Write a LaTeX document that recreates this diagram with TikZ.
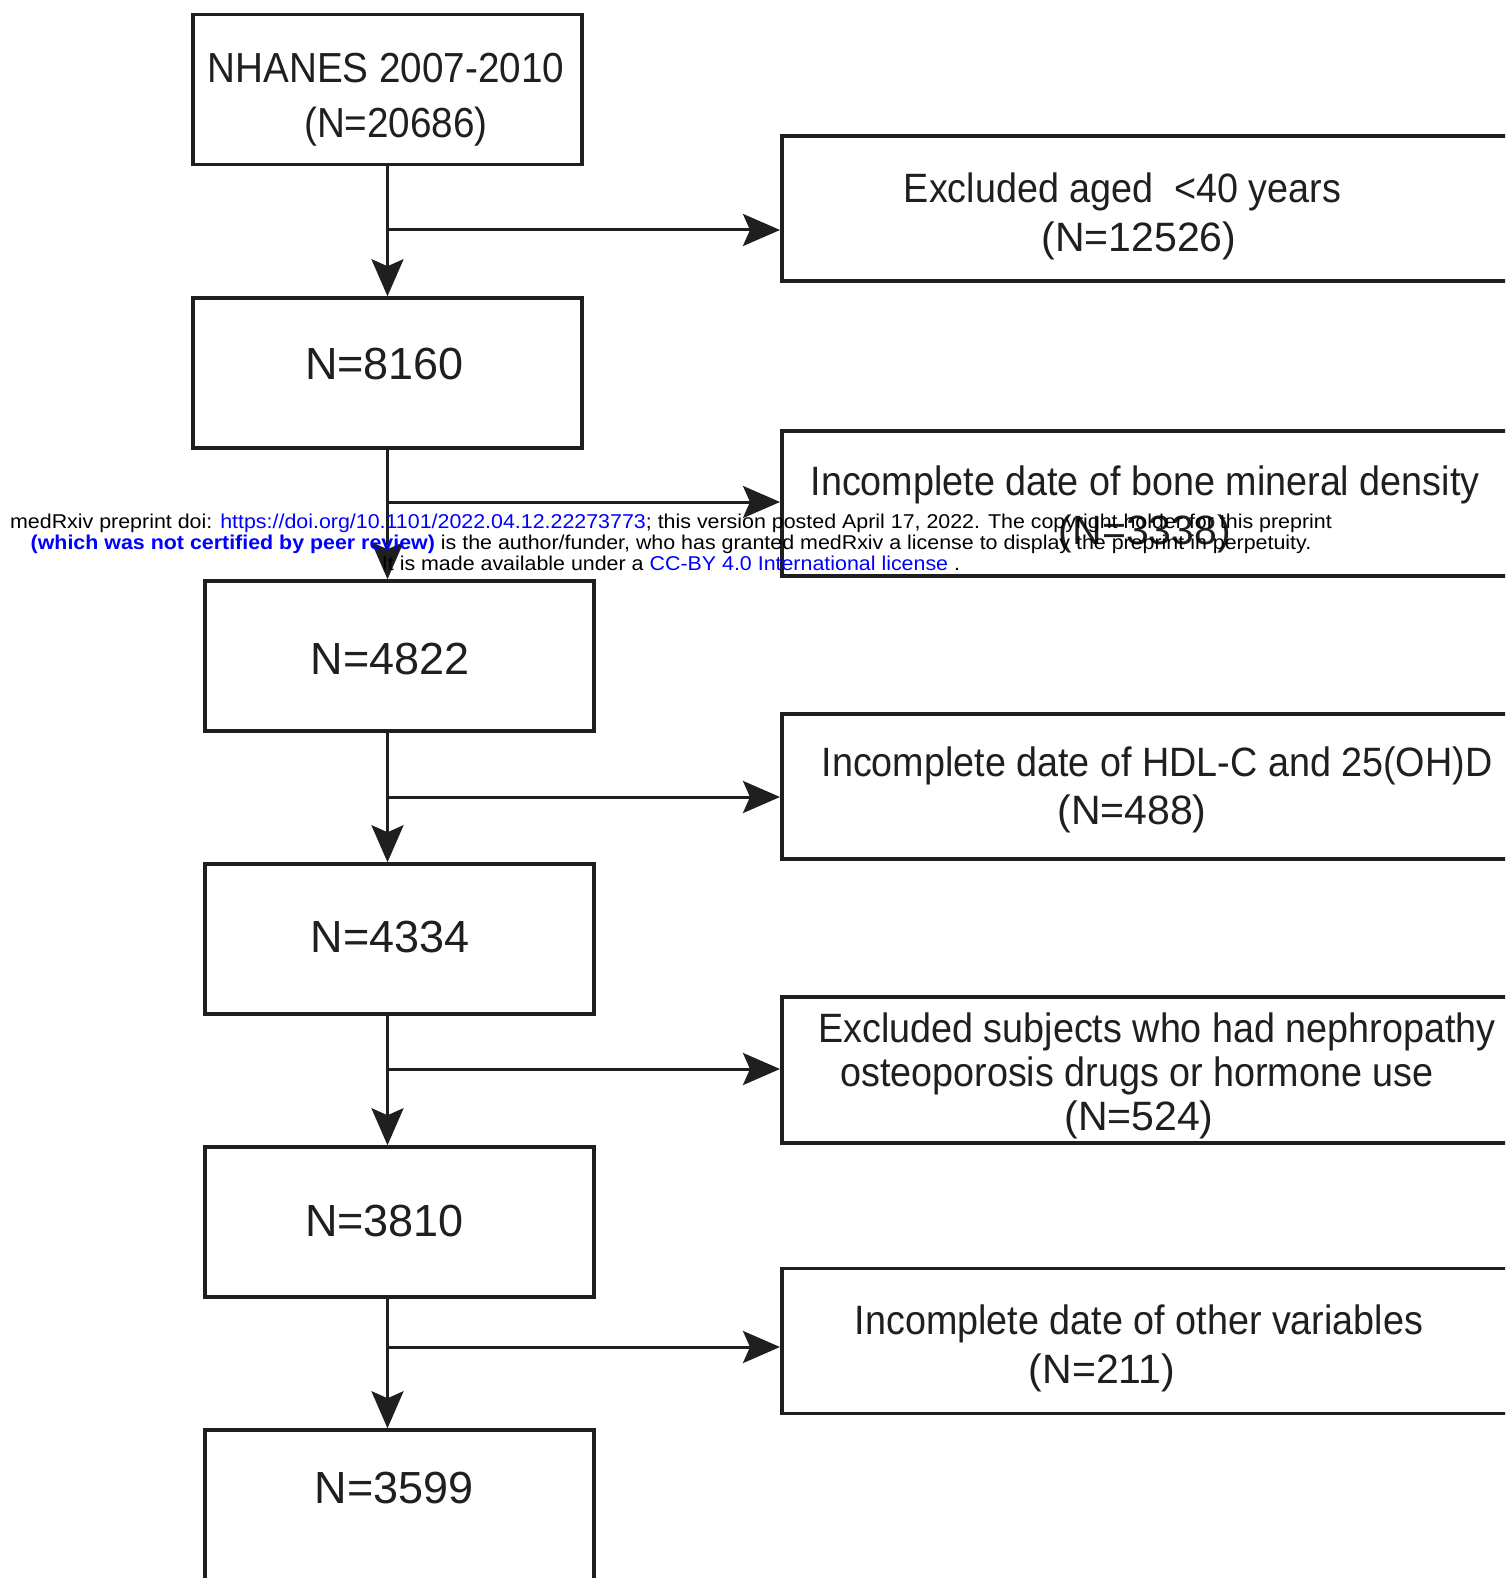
\documentclass[tikz,border=0pt]{standalone}
\usepackage{fontspec}
\setmainfont{Liberation Sans}
\newfontfamily\narrowfont[FakeStretch=0.92]{Liberation Sans}
\newfontfamily\stampfont[FakeStretch=1.07]{Liberation Sans}
\usetikzlibrary{arrows.meta}
\definecolor{ink}{gray}{0.12}
\definecolor{stampblue}{RGB}{0,0,255}

\begin{document}
\begin{tikzpicture}[x=1pt,y=-1pt,
	stage/.style={draw=ink,line width=3.5pt,minimum width=389pt,minimum height=150pt,inner sep=0pt},
	excl/.style={draw=ink,line width=3.5pt,minimum width=760pt,minimum height=145pt,inner sep=0pt,anchor=west},
	count/.style={text=ink,inner sep=0pt,font=\fontsize{45}{54}\selectfont},
	note/.style={text=ink,inner sep=0pt,align=center,font=\narrowfont\fontsize{41}{49}\selectfont},
	stamp/.style={inner sep=0pt,align=center,font=\stampfont\fontsize{20}{20.7}\selectfont},
	flow/.style={draw=ink,line width=3pt,-{Stealth[length=37pt,width=32pt,inset=7pt]}}]
	\useasboundingbox (0,0) rectangle (1505,1578);
	\clip (0,0) rectangle (1505,1578);
	\fill[white] (0,0) rectangle (1505,1578);
	% Kasten links (Stichprobe)
	\node[stage] (s1) at (387.5,89.5) {};
	\node[stage] (s2) at (387.5,373) {};
	\node[stage] (s3) at (399.5,656) {};
	\node[stage] (s4) at (399.5,939) {};
	\node[stage] (s5) at (399.5,1222) {};
	\node[stage] (s6) at (399.5,1505) {};
	\node[note,font=\narrowfont\fontsize{42}{55}\selectfont] (s1t) at (386,100) {NHANES 2007-2010\\\hspace*{20pt}(N=20686)};
	\node[count] (s2t) at (384.5,364) {N=8160};
	\node[count] (s3t) at (390,659.5) {N=4822};
	\node[count] (s4t) at (390,937) {N=4334};
	\node[count] (s5t) at (384.5,1221) {N=3810};
	\node[count] (s6t) at (394,1488) {N=3599};
	% Kasten rechts (Ausschluss)
	\node[excl] (e1) at (780,208.5) {};
	\node[excl] (e2) at (780,503.5) {};
	\node[excl] (e3) at (780,786.5) {};
	\node[excl,minimum height=146pt] (e4) at (780,1070) {};
	\node[excl] (e5) at (780,1341) {};
	\node[note] (e1t) at (1139,216.3) {Excluded aged\ \ <40 years\hspace*{33pt}\null\\{\rmfamily(N=12526)}};
	\node[note] (e2t) at (1145,509.3) {Incomplete date of bone mineral density\\{\rmfamily(N=3338)}};
	\node[note,font=\narrowfont\fontsize{41}{48}\selectfont] (e3t) at (1157,790.3) {Incomplete date of HDL-C and 25(OH)D\\{\rmfamily(N=488)}\hspace*{50pt}\null};
	\node[note,font=\narrowfont\fontsize{41}{44}\selectfont] (e4t) at (1157,1076.3) {Excluded subjects who had nephropathy\\osteoporosis drugs or hormone use\hspace*{40pt}\null\\{\rmfamily(N=524)}\hspace*{36pt}\null};
	\node[note] (e5t) at (1139,1348.8) {Incomplete date of other variables\\{\rmfamily(N=211)}\hspace*{74pt}\null};
	% Pfeile
	\coordinate (spine) at (s1.south);
	\draw[flow] (s1) -- (s2);
	\draw[flow] (s2.south) -- (s2.south |- s3.north);
	\draw[flow] (s3.south -| spine) -- (s4.north -| spine);
	\draw[flow] (s4.south -| spine) -- (s5.north -| spine);
	\draw[flow] (s5.south -| spine) -- (s6.north -| spine);
	\coordinate (j1) at (387.5,230);
	\coordinate (j2) at (387.5,502);
	\coordinate (j3) at (387.5,797);
	\coordinate (j4) at (387.5,1069);
	\coordinate (j5) at (387.5,1347);
	\draw[flow] (j1) -- (j1 -| e1.west);
	\draw[flow] (j2) -- (j2 -| e2.west);
	\draw[flow] (j3) -- (j3 -| e3.west);
	\draw[flow] (j4) -- (j4 -| e4.west);
	\draw[flow] (j5) -- (j5 -| e5.west);
	% Vermerk oben drauf
	\node[stamp] (wm) at (671,542.3) {medRxiv preprint doi: \textcolor{stampblue}{https://doi.org/10.1101/2022.04.12.22273773}; this version posted April 17, 2022. The copyright holder for this preprint\\
		\textcolor{stampblue}{\bfseries (which was not certified by peer review)} is the author/funder, who has granted medRxiv a license to display the preprint in perpetuity.\\
		It is made available under a \textcolor{stampblue}{CC-BY 4.0 International license} .};
\end{tikzpicture}
\end{document}
